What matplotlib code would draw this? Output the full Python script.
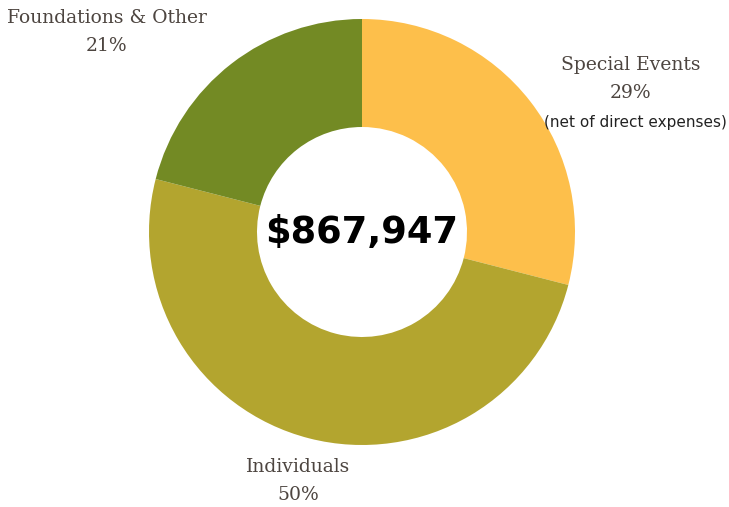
import matplotlib
matplotlib.use("Agg")
import matplotlib.pyplot as plt

# data, clockwise from 12 o'clock
labels = ["Special Events", "Individuals", "Foundations & Other"]
shares = [29, 50, 21]
colors = ["#FDBF4B", "#B3A52F", "#738A24"]
total = "$867,947"

fig = plt.figure(figsize=(7.29, 5.07), dpi=100)
ax = fig.add_axes([0, 0, 1, 1])

ax.pie(shares, colors=colors, startangle=90, counterclock=False,
       center=(362, 275), radius=213,
       wedgeprops=dict(width=108, linewidth=0), frame=True)
ax.set_xlim(0, 729)
ax.set_ylim(0, 507)
ax.set_aspect("equal")
ax.set_axis_off()

ax.text(362, 274, total, ha="center", va="center", fontsize=26.5,
        fontweight="heavy", family="DejaVu Sans", color="black")

lab_font = dict(family="DejaVu Serif", fontsize=13.5, color="#4d4540",
                ha="center", va="center", linespacing=1.7)
ax.text(631, 428, f"{labels[0]}\n{shares[0]}%", **lab_font)
ax.text(635, 384, "(net of direct expenses)", ha="center", va="center",
        fontsize=11, family="DejaVu Sans", color="#222222")
ax.text(298, 26, f"{labels[1]}\n{shares[1]}%", **lab_font)
ax.text(107, 475, f"{labels[2]}\n{shares[2]}%", **lab_font)

fig.savefig("out.png", dpi=100)
